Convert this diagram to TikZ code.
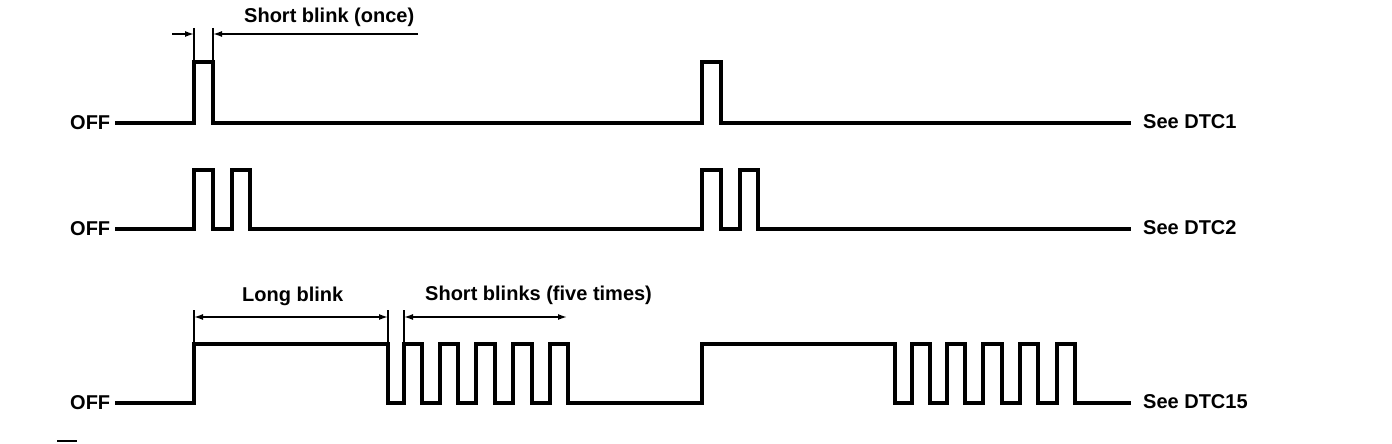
\documentclass[tikz,border=0pt]{standalone}
\usepackage{fontspec}
\setmainfont{Liberation Sans}
\usetikzlibrary{arrows.meta}
\begin{document}
\begin{tikzpicture}[x=1pt,y=-1pt,
  sig/.style={line width=3.2pt, line join=miter, line cap=butt},
  dim/.style={line width=1.5pt},
  tipr/.style={-{Latex[length=9pt,width=6pt]}},
  tipb/.style={{Latex[length=9pt,width=6pt]}-{Latex[length=9pt,width=6pt]}},
  lbl/.style={font=\bfseries\fontsize{20}{22}\selectfont, inner sep=0pt, anchor=west}]
\useasboundingbox (0,0) rectangle (1392,444);

% labels
\node[lbl] (tshort) at (244,17) {Short blink (once)};
\node[lbl] (tlong) at (242,296) {Long blink};
\node[lbl] (tfive) at (425,295) {Short blinks (five times)};
\node[lbl] (off1) at (70,123) {OFF};
\node[lbl] (off2) at (70,229) {OFF};
\node[lbl] (off3) at (70,403) {OFF};
\node[lbl] (see1) at (1143,122) {See DTC1};
\node[lbl] (see2) at (1143,228) {See DTC2};
\node[lbl] (see3) at (1143,402) {See DTC15};

% row 1
\draw[dim] (194,28) -- (194,62);
\draw[dim] (213,28) -- (213,62);
\draw[dim,tipr] (172,34) -- (194,34);
\draw[dim,tipr] (418,34) -- (213,34);
\draw[sig] (115,123) -- (194,123) -- (194,62) -- (213,62) -- (213,123)
  -- (702,123) -- (702,62) -- (721,62) -- (721,123) -- (1131,123);

% row 2
\draw[sig] (115,229) -- (194,229) -- (194,170) -- (213,170) -- (213,229)
  -- (232,229) -- (232,170) -- (250,170) -- (250,229)
  -- (702,229) -- (702,170) -- (721,170) -- (721,229)
  -- (740,229) -- (740,170) -- (758,170) -- (758,229) -- (1131,229);

% row 3
\draw[dim] (194,310) -- (194,344);
\draw[dim] (388,310) -- (388,344);
\draw[dim] (404,310) -- (404,344);
\draw[dim,tipb] (194,317) -- (388,317);
\draw[dim,tipb] (404,317) -- (567,317);
\draw[sig] (115,403) -- (194,403) -- (194,344) -- (388,344) -- (388,403)
  -- (404,403) -- (404,344) -- (422,344) -- (422,403)
  -- (440,403) -- (440,344) -- (458,344) -- (458,403)
  -- (476,403) -- (476,344) -- (495,344) -- (495,403)
  -- (513,403) -- (513,344) -- (532,344) -- (532,403)
  -- (550,403) -- (550,344) -- (568,344) -- (568,403)
  -- (702,403) -- (702,344) -- (895,344) -- (895,403)
  -- (912,403) -- (912,344) -- (930,344) -- (930,403)
  -- (947,403) -- (947,344) -- (965,344) -- (965,403)
  -- (983,403) -- (983,344) -- (1002,344) -- (1002,403)
  -- (1020,403) -- (1020,344) -- (1038,344) -- (1038,403)
  -- (1057,403) -- (1057,344) -- (1075,344) -- (1075,403) -- (1131,403);

% stray mark
\draw[line width=2pt] (57,441) -- (77,441);
\end{tikzpicture}
\end{document}
